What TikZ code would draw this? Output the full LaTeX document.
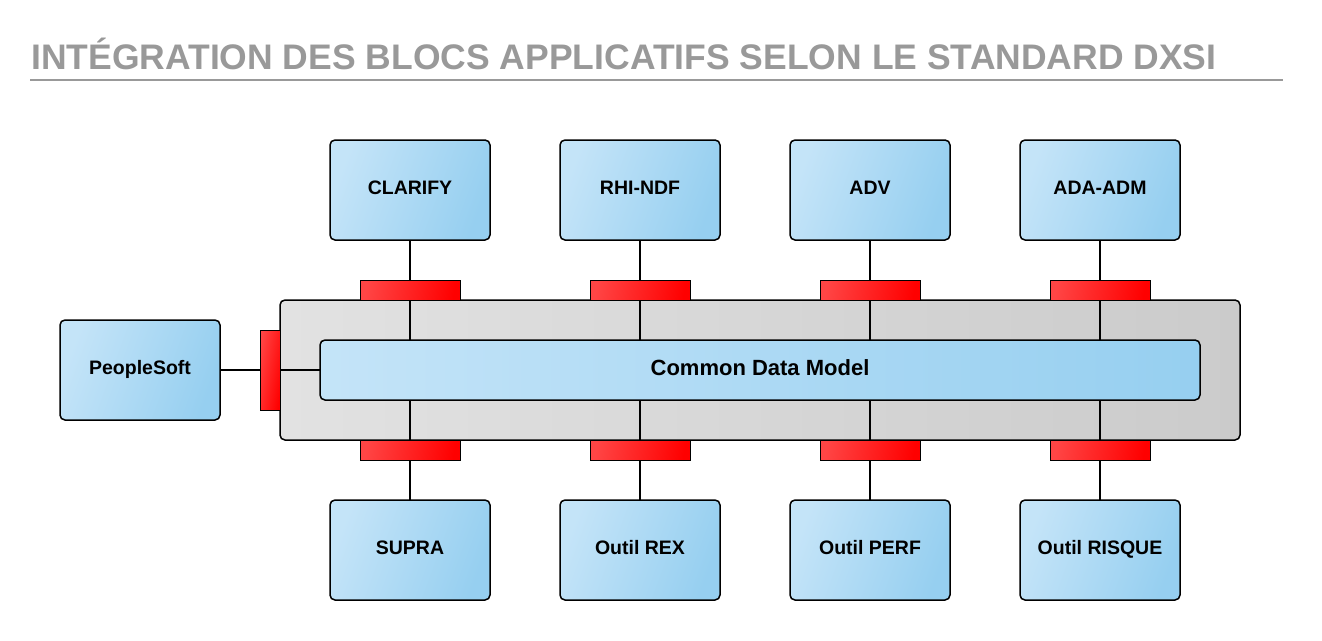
\documentclass[tikz,border=0pt]{standalone}
\usepackage{fontspec}
\setmainfont{Liberation Sans}
\usetikzlibrary{positioning,calc}
\definecolor{titlegray}{HTML}{999999}
\definecolor{boxlight}{HTML}{C4E4F8}
\definecolor{boxdark}{HTML}{96CFF0}
\definecolor{buslight}{HTML}{E2E2E2}
\definecolor{busdark}{HTML}{CBCBCB}
\definecolor{portlight}{HTML}{FF4545}
\definecolor{portdark}{HTML}{FF0000}
\tikzset{
  appli/.style={draw=black,line width=1.5pt,rounded corners=5pt,
    left color=boxlight,right color=boxdark,shading angle=70,
    minimum width=160pt,minimum height=100pt,inner sep=0pt,outer sep=0pt,
    text height=12pt,text depth=4pt,
    font=\fontsize{19.5}{21}\selectfont\bfseries},
  port/.style={draw=black,line width=0.8pt,
    left color=portlight,right color=portdark,shading angle=80,
    minimum width=100pt,minimum height=20pt,inner sep=0pt,outer sep=0pt},
  vport/.style={port,minimum width=20pt,minimum height=80pt},
  link/.style={draw=black,line width=1.5pt}
}
\begin{document}
\begin{tikzpicture}[x=1pt,y=-1pt,node distance=70pt]
\useasboundingbox (0,0) rectangle (1322,640);
% title
\node[anchor=base west,inner sep=0pt,text=titlegray,
  font=\fontsize{35.5}{38}\selectfont\bfseries] (title) at (31,69)
  {INTÉGRATION DES BLOCS APPLICATIFS SELON LE STANDARD DXSI};
\draw[titlegray,line width=1.5pt] (30,80) -- (1283,80);
% bus and blocks
\node[draw=black,line width=1.5pt,rounded corners=5pt,
  left color=buslight,right color=busdark,outer sep=0pt,
  minimum width=960pt,minimum height=140pt,inner sep=0pt] (bus) at (760,370) {};
\node[appli] (clarify) at (410,190) {CLARIFY};
\node[appli,right=of clarify] (rhi) {RHI-NDF};
\node[appli,right=of rhi] (adv) {ADV};
\node[appli,right=of adv] (ada) {ADA-ADM};
\node[appli,below=260pt of clarify] (supra) {SUPRA};
\node[appli,right=of supra] (rex) {Outil REX};
\node[appli,right=of rex] (perf) {Outil PERF};
\node[appli,right=of perf] (risque) {Outil RISQUE};
\node[appli] (people) at (140,370) {PeopleSoft};
% common data model (placeholder for the links)
\coordinate (cdmc) at (760,370);
\path (cdmc) ++(-440,-30) coordinate (cdmnw) (cdmc) ++(440,30) coordinate (cdmse);
% links
\foreach \top in {clarify,rhi,adv,ada}
  \draw[link] (\top.south) -- (\top |- cdmnw);
\foreach \bot in {supra,rex,perf,risque}
  \draw[link] (\bot.north) -- (\bot |- cdmse);
\draw[link] (people.east) -- (cdmnw |- cdmc);
% ports
\foreach \top in {clarify,rhi,adv,ada}
  \node[port,anchor=south] (p-\top) at (\top |- bus.north) {};
\foreach \bot in {supra,rex,perf,risque}
  \node[port,anchor=north] (p-\bot) at (\bot |- bus.south) {};
\node[vport,anchor=east] (p-people) at (bus.west) {};
% redraw the links over the ports inside the bus
\foreach \top in {clarify,rhi,adv,ada}
  \draw[link] (\top |- bus.north) -- (\top |- cdmnw);
\foreach \bot in {supra,rex,perf,risque}
  \draw[link] (\bot |- bus.south) -- (\bot |- cdmse);
\draw[link] (bus.west) -- (cdmnw |- cdmc);
\node[draw=black,line width=1.5pt,rounded corners=5pt,
  left color=boxlight,right color=boxdark,outer sep=0pt,
  minimum width=880pt,minimum height=60pt,inner sep=0pt,
  text height=14pt,text depth=4pt,
  font=\fontsize{22}{24}\selectfont\bfseries] (cdm) at (cdmc) {Common Data Model};
\end{tikzpicture}
\end{document}
